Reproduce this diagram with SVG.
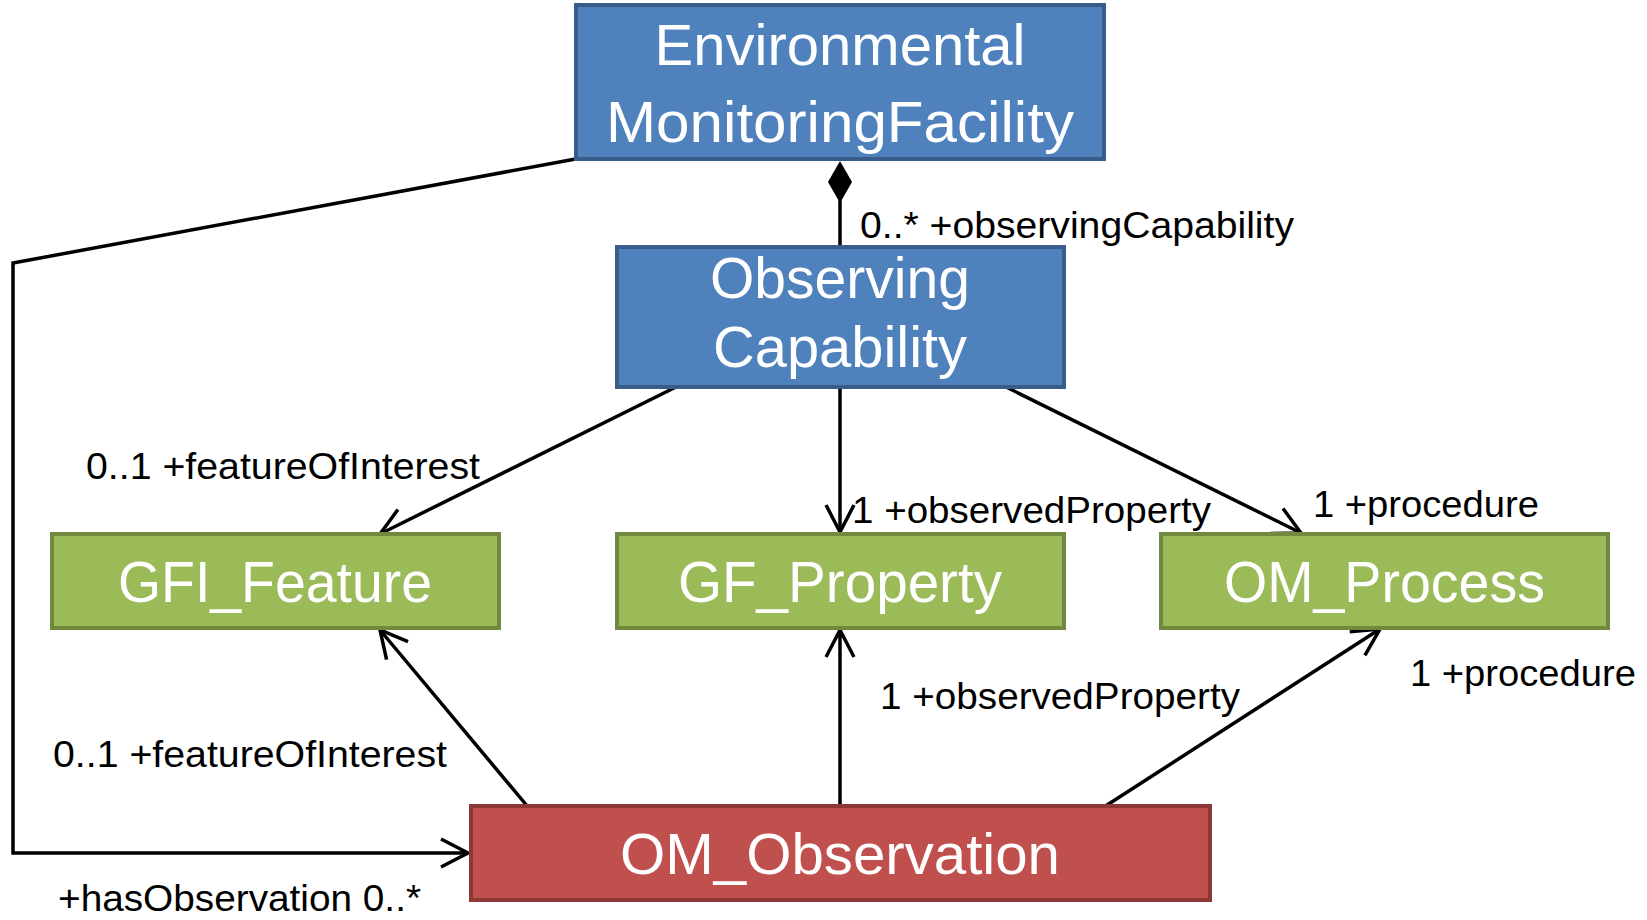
<svg xmlns="http://www.w3.org/2000/svg" width="1647" height="920" viewBox="0 0 1647 920">
<style>
.blue{fill:#4F81BD;stroke:#385D8A;stroke-width:4}
.green{fill:#9BBB59;stroke:#71893F;stroke-width:4}
.red{fill:#C0504D;stroke:#8C3836;stroke-width:4}
.title{font-family:"Liberation Sans",Arial,sans-serif;font-size:57px;fill:#FFFFFF;text-anchor:middle}
.lbl{font-family:"Liberation Sans",Arial,sans-serif;font-size:37px;fill:#000000}
.conn{fill:none;stroke:#000000;stroke-width:3.5;stroke-linejoin:miter}
</style>
<defs>
<marker id="open" markerUnits="userSpaceOnUse" markerWidth="40" markerHeight="40" viewBox="-32 -20 36 40" refX="0" refY="0" orient="auto">
<path d="M-27,-14 L0,0 L-27,14" fill="none" stroke="#000000" stroke-width="3.5"/>
</marker>
</defs>
<rect width="1647" height="920" fill="#FFFFFF"/>
<g id="connectors">
<polyline class="conn" points="581,158 13,263 13,853 468,853" marker-end="url(#open)"/>
<line class="conn" x1="678" y1="386" x2="380" y2="534" marker-end="url(#open)"/>
<line class="conn" x1="840" y1="387" x2="840" y2="532" marker-end="url(#open)"/>
<line class="conn" x1="1002" y1="385" x2="1301" y2="533" marker-end="url(#open)"/>
<line class="conn" x1="528" y1="807" x2="380" y2="630" marker-end="url(#open)"/>
<line class="conn" x1="840" y1="806" x2="840" y2="630" marker-end="url(#open)"/>
<line class="conn" x1="1104" y1="807" x2="1380" y2="629" marker-end="url(#open)"/>
<line class="conn" x1="840" y1="200" x2="840" y2="247"/>
<polygon points="840,161 852,182 840,203 828,182" fill="#000000"/>
<text class="lbl" x="860" y="238" textLength="434" lengthAdjust="spacingAndGlyphs">0..* +observingCapability</text>
<text class="lbl" x="86" y="479" textLength="394" lengthAdjust="spacingAndGlyphs">0..1 +featureOfInterest</text>
<text class="lbl" x="852" y="523" textLength="359" lengthAdjust="spacingAndGlyphs">1 +observedProperty</text>
<text class="lbl" x="1313" y="517" textLength="226" lengthAdjust="spacingAndGlyphs">1 +procedure</text>
<text class="lbl" x="53" y="767" textLength="394" lengthAdjust="spacingAndGlyphs">0..1 +featureOfInterest</text>
<text class="lbl" x="880" y="709" textLength="360" lengthAdjust="spacingAndGlyphs">1 +observedProperty</text>
<text class="lbl" x="1410" y="686" textLength="226" lengthAdjust="spacingAndGlyphs">1 +procedure</text>
<text class="lbl" x="58" y="911" textLength="363" lengthAdjust="spacingAndGlyphs">+hasObservation 0..*</text>
</g>
<g id="EnvironmentalMonitoringFacility">
<rect class="blue" x="576" y="5" width="528" height="154"/>
<text class="title" x="840" y="65" textLength="371" lengthAdjust="spacingAndGlyphs">Environmental</text>
<text class="title" x="840" y="142" textLength="468" lengthAdjust="spacingAndGlyphs">MonitoringFacility</text>
</g>
<g id="ObservingCapability">
<rect class="blue" x="617" y="247" width="447" height="140"/>
<text class="title" x="840" y="298" textLength="260" lengthAdjust="spacingAndGlyphs">Observing</text>
<text class="title" x="840" y="367" textLength="254" lengthAdjust="spacingAndGlyphs">Capability</text>
</g>
<g id="GFI_Feature">
<rect class="green" x="52" y="534" width="447" height="94"/>
<text class="title" x="275" y="602" textLength="314" lengthAdjust="spacingAndGlyphs">GFI_Feature</text>
</g>
<g id="GF_Property">
<rect class="green" x="617" y="534" width="447" height="94"/>
<text class="title" x="840" y="602" textLength="324" lengthAdjust="spacingAndGlyphs">GF_Property</text>
</g>
<g id="OM_Process">
<rect class="green" x="1161" y="534" width="447" height="94"/>
<text class="title" x="1384.5" y="602" textLength="321" lengthAdjust="spacingAndGlyphs">OM_Process</text>
</g>
<g id="OM_Observation">
<rect class="red" x="471" y="806" width="739" height="94"/>
<text class="title" x="840" y="874" textLength="440" lengthAdjust="spacingAndGlyphs">OM_Observation</text>
</g>
</svg>
